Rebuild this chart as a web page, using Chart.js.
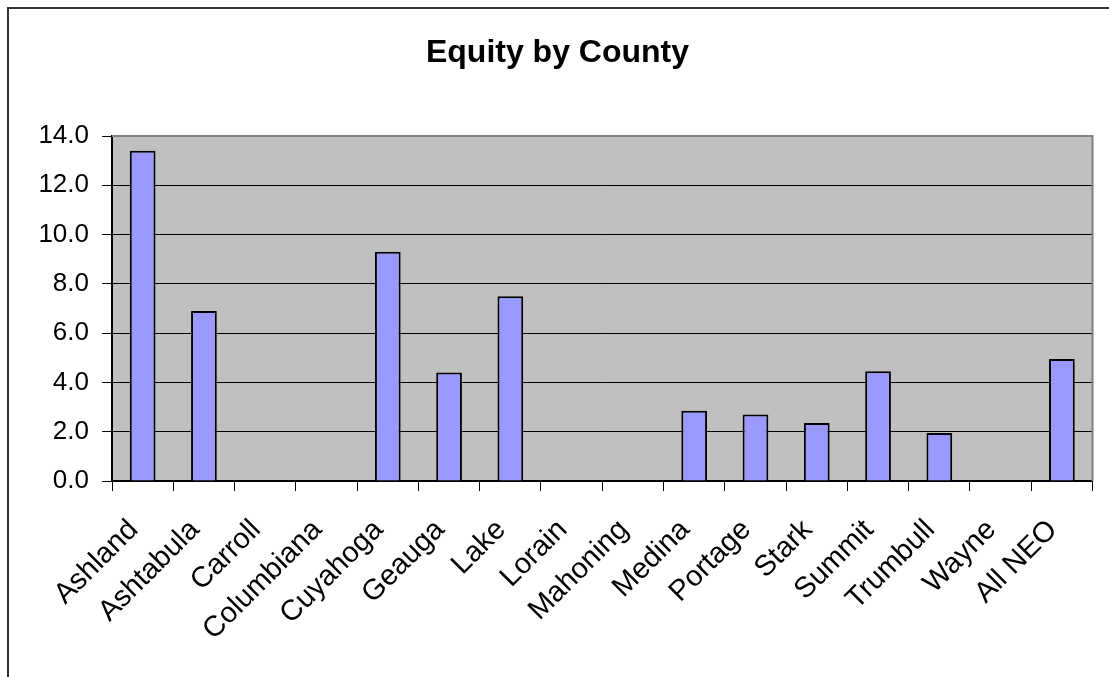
<!DOCTYPE html>
<html>
<head>
<meta charset="utf-8">
<script src="https://cdn.jsdelivr.net/npm/chart.js@4/dist/chart.umd.min.js"></script>
<style>
    html, body { margin: 0; padding: 0; background: #fff; overflow: hidden; }
    #wrap { position: relative; width: 1109px; height: 677px; }
    #frame { position: absolute; left: 7px; top: 7px; width: 1200px; height: 800px;
             border-left: 2px solid #333; border-top: 2px solid #333; box-sizing: border-box; }
    canvas { position: absolute; left: 0; top: 0; }
</style>
</head>
<body>
<div id="wrap">
    <div id="frame"></div>
    <canvas id="equityChart" width="1109" height="677"></canvas>
</div>
<script>
const chartTitle = 'Equity by County';
const counties = ['Ashland', 'Ashtabula', 'Carroll', 'Columbiana', 'Cuyahoga', 'Geauga', 'Lake', 'Lorain',
    'Mahoning', 'Medina', 'Portage', 'Stark', 'Summit', 'Trumbull', 'Wayne', 'All NEO'];
const equity = [13.4, 6.9, null, null, 9.3, 4.4, 7.5, null, null, 2.85, 2.7, 2.35, 4.45, 1.95, null, 4.95];
const yMin = 0;
const yMax = 14;
const yStep = 2;

const fontFamily = "'Liberation Sans', Arial, sans-serif";

// gray plot background like the old Excel charts, plus the title centred on the whole frame
const excelLook = {
    id: 'excelLook',
    beforeDraw(chart) {
        const {ctx, chartArea} = chart;
        ctx.save();
        ctx.fillStyle = '#C0C0C0';
        ctx.fillRect(chartArea.left, chartArea.top, chartArea.right - chartArea.left, chartArea.bottom - chartArea.top);
        ctx.restore();
    },
    afterDatasetsDraw(chart) {
        const {ctx, chartArea} = chart;
        ctx.save();
        ctx.strokeStyle = '#808080';
        ctx.lineWidth = 2;
        ctx.beginPath();
        ctx.moveTo(chartArea.left, chartArea.top);
        ctx.lineTo(chartArea.right, chartArea.top);
        ctx.lineTo(chartArea.right, chartArea.bottom);
        ctx.stroke();
        ctx.restore();
    },
    afterDraw(chart) {
        const {ctx} = chart;
        ctx.save();
        ctx.fillStyle = '#000';
        ctx.font = 'bold 32px ' + fontFamily;
        ctx.textAlign = 'center';
        ctx.textBaseline = 'middle';
        ctx.fillText(chartTitle, chart.width / 2 + 3, 53);
        ctx.restore();
    }
};

new Chart(document.getElementById('equityChart'), {
    type: 'bar',
    data: {
        labels: counties,
        datasets: [{
            label: 'Equity',
            data: equity,
            backgroundColor: '#9999FF',
            borderColor: '#000000',
            borderWidth: 2,
            barPercentage: 0.42,
            categoryPercentage: 1.0
        }]
    },
    options: {
        responsive: false,
        animation: false,
        layout: { padding: { left: 0, right: 16, top: 136, bottom: 0 } },
        plugins: {
            legend: { display: false },
            tooltip: { enabled: false },
            title: { display: false }
        },
        scales: {
            y: {
                min: yMin,
                max: yMax,
                ticks: {
                    stepSize: yStep,
                    color: '#000',
                    font: { family: fontFamily, size: 26 },
                    padding: 13,
                    callback: v => v.toFixed(1)
                },
                grid: {
                    color: ctx => ctx.tick && ctx.tick.value === yMax ? '#808080' : '#000',
                    lineWidth: 1,
                    tickLength: 10,
                    tickColor: '#000'
                },
                border: { display: true, color: '#000', width: 2 },
                afterFit(scale) { scale.width = 112; }
            },
            x: {
                ticks: {
                    color: '#000',
                    font: { family: fontFamily, size: 29 },
                    maxRotation: 45,
                    minRotation: 45,
                    padding: 22,
                    labelOffset: -9,
                    autoSkip: false
                },
                grid: {
                    offset: true,
                    drawOnChartArea: false,
                    tickLength: 10,
                    color: '#000'
                },
                border: { display: true, color: '#000', width: 2 },
                afterFit(scale) { scale.height = 196; }
            }
        }
    },
    plugins: [excelLook]
});
</script>
</body>
</html>
